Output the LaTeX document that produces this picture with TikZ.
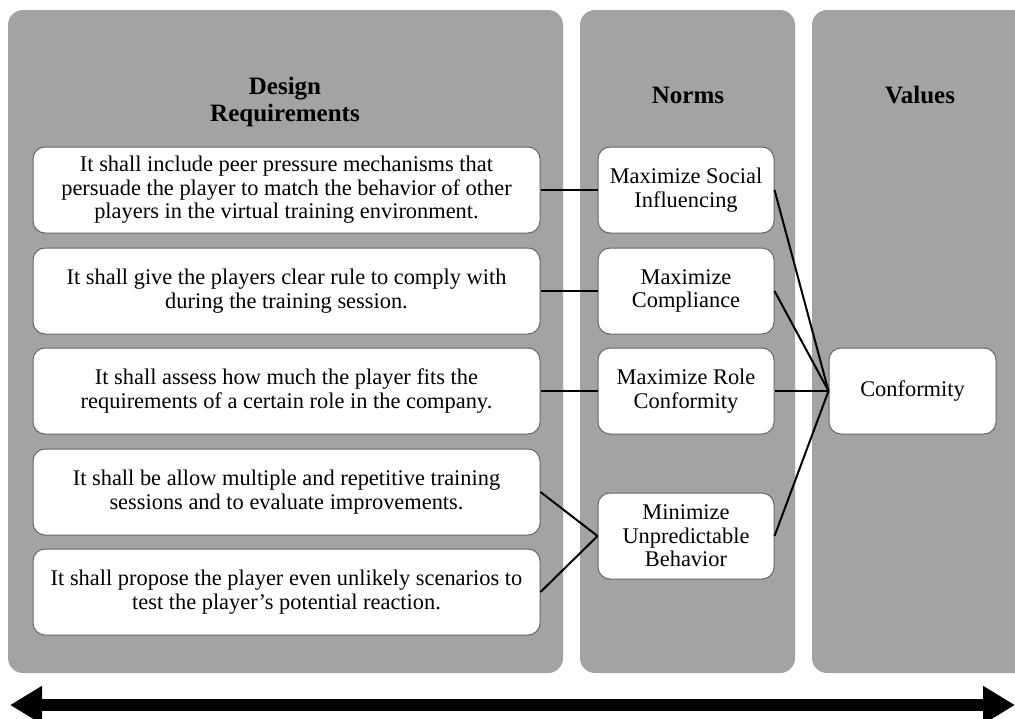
\documentclass[tikz,border=0pt]{standalone}
\usepackage{fontspec}
\setmainfont{Liberation Serif}
\usetikzlibrary{arrows.meta}

\tikzset{
  panel/.style={fill=black!36, draw=none, rounded corners=7.5pt},
  heading/.style={font=\fontsize{12.5}{13.5}\selectfont\bfseries, align=center},
  reqbox/.style={draw=black!60, fill=white, rounded corners=6pt, line width=0.5pt,
    minimum width=253.5pt, minimum height=43pt, align=center,
    font=\fontsize{11.2}{11.8}\selectfont},
  normbox/.style={reqbox, minimum width=88pt},
  valuebox/.style={reqbox, minimum width=83.5pt},
  link/.style={line width=1pt}
}

\begin{document}
\begin{tikzpicture}[x=0.5pt, y=-0.5pt]

\clip (0,0) rectangle (1015,718);

% gray columns
\fill[panel] (8,10) rectangle (563,673);
\fill[panel] (580,10) rectangle (795,673);
\fill[panel] (812,10) rectangle (1040,673);

% column titles
\node[heading] (hreq) at (285,102) {Design\\Requirements};
\node[heading] (hnorm) at (688,95) {Norms};
\node[heading] (hval) at (920,95) {Values};

% design requirements
\node[reqbox] (r1) at (286.5,190) {It shall include peer pressure mechanisms that\\persuade the player to match the behavior of other\\players in the virtual training environment.};
\node[reqbox] (r2) at (286.5,291) {It shall give the players clear rule to comply with\\during the training session.};
\node[reqbox] (r3) at (286.5,391) {It shall assess how much the player fits the\\requirements of a certain role in the company.};
\node[reqbox] (r4) at (286.5,492) {It shall be allow multiple and repetitive training\\sessions and to evaluate improvements.};
\node[reqbox] (r5) at (286.5,592) {It shall propose the player even unlikely scenarios to\\test the player’s potential reaction.};

% norms
\node[normbox] (n1) at (686,190) {Maximize Social\\Influencing};
\node[normbox] (n2) at (686,291) {Maximize\\Compliance};
\node[normbox] (n3) at (686,391) {Maximize Role\\Conformity};
\node[normbox] (n4) at (686,536) {Minimize\\Unpredictable\\Behavior};

% value
\node[valuebox] (v1) at (912.5,391) {Conformity};

% links
\draw[link] (r1.east) -- (n1.west);
\draw[link] (r2.east) -- (n2.west);
\draw[link] (r3.east) -- (n3.west);
\draw[link] (r4.east) -- (n4.west);
\draw[link] (r5.east) -- (n4.west);
\draw[link] (n1.east) -- (v1.west);
\draw[link] (n2.east) -- (v1.west);
\draw[link] (n3.east) -- (v1.west);
\draw[link] (n4.east) -- (v1.west);

% bottom arrow
\coordinate (aleft) at (10,705);
\coordinate (aright) at (1015,705);
\draw[line width=6pt, {Triangle[length=16pt,width=18pt]}-{Triangle[length=16pt,width=18pt]}] (aleft) -- (aright);

\end{tikzpicture}
\end{document}
